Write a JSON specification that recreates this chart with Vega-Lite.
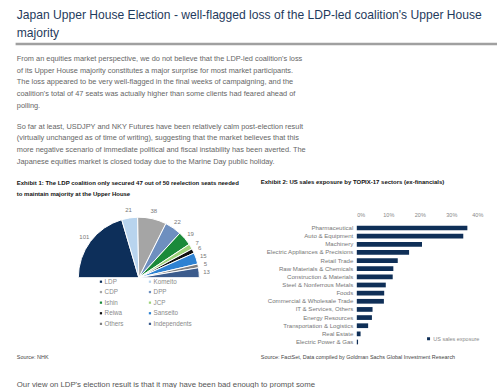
{
  "$schema": "https://vega.github.io/schema/vega-lite/v6.json",
  "background": "white",
  "padding": {"left": 14.8, "top": 7, "right": 0, "bottom": 0},
  "spacing": 0,
  "resolve": {"scale": {"color": "independent"}, "legend": {"color": "independent"}},
  "config": {"view": {"stroke": null}, "font": "Liberation Sans"},
  "vconcat": [
    {
      "width": 479, "height": 0.01,
      "view": {"stroke": "#a0a0a0", "strokeWidth": 2.4},
      "title": {"text": ["Japan Upper House Election - well-flagged loss of the LDP-led coalition's Upper House", "majority"], "anchor": "start", "frame": "group", "orient": "top", "font": "Liberation Sans", "fontSize": 12.1, "fontWeight": "normal", "color": "#1f3b5d", "lineHeight": 18, "offset": 5},
      "data": {"values": []},
      "mark": "text",
      "encoding": {}
    },
    {
      "width": 479, "height": 0.01,
      "title": {
        "text": ["From an equities market perspective, we do not believe that the LDP-led coalition's loss", "of its Upper House majority constitutes a major surprise for most market participants.", "The loss appeared to be very well-flagged in the final weeks of campaigning, and the", "coalition's total of 47 seats was actually higher than some clients had feared ahead of", "polling."],
        "subtitle": ["So far at least, USDJPY and NKY Futures have been relatively calm post-election result", "(virtually unchanged as of time of writing), suggesting that the market believes that this", "more negative scenario of immediate political and fiscal instability has been averted. The", "Japanese equities market is closed today due to the Marine Day public holiday."],
        "orient": "bottom", "anchor": "start", "frame": "group",
        "font": "Liberation Sans", "fontSize": 7.4, "fontWeight": "normal", "color": "#666666", "lineHeight": 11.67,
        "subtitleFont": "Liberation Sans", "subtitleFontSize": 7.4, "subtitleColor": "#666666", "subtitleLineHeight": 11.67, "subtitlePadding": 13.7, "offset": 9
      },
      "data": {"values": []},
      "mark": "text",
      "encoding": {}
    },
    {
      "width": 1, "height": 11.2,
      "data": {"values": []},
      "mark": "text",
      "encoding": {}
    },
    {
      "hconcat": [
        {
          "width": 244, "height": 107.4,
          "title": {"text": ["Exhibit 1: The LDP coalition only secured 47 out of 50 reelection seats needed", "to maintain majority at the Upper House"], "anchor": "start", "frame": "group", "font": "Liberation Sans", "fontSize": 6, "fontWeight": "bold", "color": "#111111", "lineHeight": 11, "offset": 10.3},
          "data": {"values": [
            {"party": "LDP", "seats": 101, "idx": 1},
            {"party": "Komeito", "seats": 21, "idx": 2},
            {"party": "CDP", "seats": 38, "idx": 3},
            {"party": "DPP", "seats": 22, "idx": 4},
            {"party": "Ishin", "seats": 19, "idx": 5},
            {"party": "JCP", "seats": 7, "idx": 6},
            {"party": "Reiwa", "seats": 6, "idx": 7},
            {"party": "Sanseito", "seats": 15, "idx": 8},
            {"party": "Others", "seats": 5, "idx": 9},
            {"party": "Independents", "seats": 13, "idx": 10}
          ]},
          "encoding": {
            "theta": {"field": "seats", "type": "quantitative", "stack": true, "scale": {"range": [-1.5708, 1.5708]}},
            "order": {"field": "idx", "type": "quantitative"}
          },
          "layer": [
            {
              "mark": {"type": "arc", "outerRadius": 60.5, "stroke": "white", "strokeWidth": 1},
              "encoding": {
                "color": {"field": "party", "type": "nominal",
                  "scale": {"domain": ["LDP", "Komeito", "CDP", "DPP", "Ishin", "JCP", "Reiwa", "Sanseito", "Others", "Independents"],
                            "range": ["#0d2f5a", "#b8d4ee", "#a5a5a5", "#6e8fbf", "#1b8a3a", "#9ed27a", "#101010", "#2e82d2", "#7f7f7f", "#3b5b8c"]},
                  "legend": {"orient": "none", "legendX": 81, "legendY": 54.3, "title": null, "columns": 2, "direction": "horizontal", "gridAlign": "all", "columnPadding": 4, "rowPadding": 3.6, "symbolType": "square", "symbolSize": 5, "symbolStrokeWidth": 0, "labelFontSize": 6.3, "labelColor": "#8a8a8a", "labelOffset": 0.5, "labelFont": "Liberation Sans"}
                }
              }
            },
            {
              "mark": {"type": "text", "radius": 68, "fontSize": 6, "color": "#777777", "font": "Liberation Sans"},
              "encoding": {"text": {"field": "seats", "type": "quantitative"}}
            }
          ]
        },
        {
          "width": 126, "height": 122,
          "title": {"text": "Exhibit 2: US sales exposure by TOPIX-17 sectors (ex-financials)", "anchor": "start", "frame": "group", "dx": -96, "font": "Liberation Sans", "fontSize": 6, "fontWeight": "bold", "color": "#111111", "offset": 28.3},
          "data": {"values": [
            {"sector": "Pharmaceutical", "exposure": 35.1},
            {"sector": "Auto & Equipment", "exposure": 33.8},
            {"sector": "Machinery", "exposure": 20.7},
            {"sector": "Electric Appliances & Precisions", "exposure": 16.6},
            {"sector": "Retail Trade", "exposure": 13.0},
            {"sector": "Raw Materials & Chemicals", "exposure": 11.6},
            {"sector": "Construction & Materials", "exposure": 11.4},
            {"sector": "Steel & Nonferrous Metals", "exposure": 9.2},
            {"sector": "Foods", "exposure": 8.7},
            {"sector": "Commercial & Wholesale Trade", "exposure": 8.6},
            {"sector": "IT & Services, Others", "exposure": 5.0},
            {"sector": "Energy Resources", "exposure": 4.8},
            {"sector": "Transportation & Logistics", "exposure": 3.6},
            {"sector": "Real Estate", "exposure": 1.2},
            {"sector": "Electric Power & Gas", "exposure": 0.4}
          ]},
          "mark": {"type": "bar"},
          "encoding": {
            "y": {"field": "sector", "type": "nominal", "sort": null, "scale": {"paddingInner": 0.42, "paddingOuter": 0.2},
                  "axis": {"title": null, "ticks": false, "tickSize": 0, "domain": false, "labelFontSize": 6.1, "labelColor": "#777777", "labelPadding": 4, "labelLimit": 200, "labelFont": "Liberation Sans"}},
            "x": {"field": "exposure", "type": "quantitative", "scale": {"domain": [0, 40]},
                  "axis": {"orient": "top", "values": [0, 10, 20, 30, 40], "labelExpr": "datum.value + '%'", "grid": false, "domain": false, "ticks": false, "tickSize": 0, "title": null, "labelFontSize": 5.5, "labelColor": "#888888", "labelPadding": 6, "labelFont": "Liberation Sans"}},
            "color": {"datum": "US sales exposure", "type": "nominal", "scale": {"range": ["#0f2f57"]},
                      "legend": {"orient": "bottom-right", "offset": 3, "title": null, "symbolType": "square", "symbolSize": 9, "symbolStrokeWidth": 0, "labelFontSize": 5.5, "labelColor": "#888888", "labelOffset": 2, "labelFont": "Liberation Sans"}}
          }
        }
      ],
      "spacing": 96,
      "bounds": "flush",
      "resolve": {"scale": {"color": "independent"}, "legend": {"color": "independent"}}
    },
    {
      "hconcat": [
        {
          "width": 244, "height": 0.01,
          "title": {"text": "Source: NHK", "orient": "bottom", "anchor": "start", "frame": "group", "offset": 8.5, "font": "Liberation Sans", "fontSize": 5.45, "fontWeight": "normal", "color": "#444444"},
          "data": {"values": []},
          "mark": "text",
          "encoding": {}
        },
        {
          "width": 126, "height": 0.01,
          "title": {"text": "Source: FactSet, Data compiled by Goldman Sachs Global Investment Research", "orient": "bottom", "anchor": "start", "frame": "group", "dx": -96, "offset": 8.5, "font": "Liberation Sans", "fontSize": 5.45, "fontWeight": "normal", "color": "#444444"},
          "data": {"values": []},
          "mark": "text",
          "encoding": {}
        }
      ],
      "spacing": 96,
      "bounds": "flush"
    },
    {
      "width": 479, "height": 0.01,
      "title": {"text": "Our view on LDP's election result is that it may have been bad enough to prompt some", "orient": "bottom", "anchor": "start", "frame": "group", "offset": 21, "font": "Liberation Sans", "fontSize": 7.8, "fontWeight": "normal", "color": "#555555"},
      "data": {"values": []},
      "mark": "text",
      "encoding": {}
    }
  ]
}
